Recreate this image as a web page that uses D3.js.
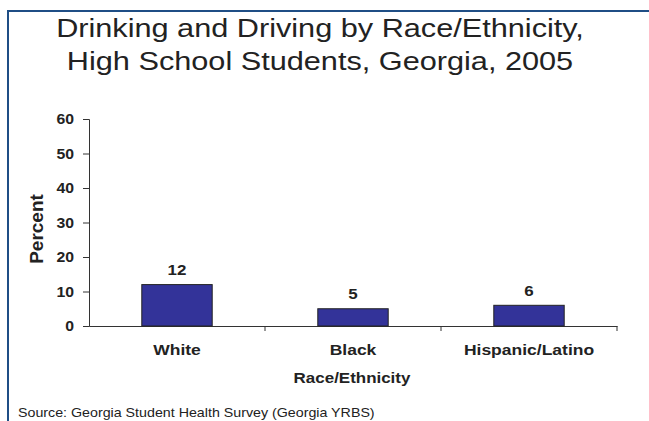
<!DOCTYPE html>
<html><head><meta charset="utf-8">
<script src="https://cdn.jsdelivr.net/npm/d3@7"></script>
<style>body{margin:0;background:#fff;}svg{display:block;font-family:"Liberation Sans",Arial,sans-serif;}</style>
</head><body>
<svg id="c" width="649" height="421"></svg>
<script>
const categories = ["White", "Black", "Hispanic/Latino"];
const values = [12, 5, 6];
const yTicks = [0, 10, 20, 30, 40, 50, 60];
const titleLines = ["Drinking and Driving by Race/Ethnicity,", "High School Students, Georgia, 2005"];
const yLabel = "Percent";
const xLabel = "Race/Ethnicity";
const source = "Source: Georgia Student Health Survey (Georgia YRBS)";

const SX = 1.13;
const svg = d3.select("#c");
// frame
svg.append("line").attr("x1",7).attr("x2",649).attr("y1",11).attr("y2",11).attr("stroke","#1f4e85").attr("stroke-width",2);
svg.append("line").attr("x1",8).attr("x2",8).attr("y1",10).attr("y2",421).attr("stroke","#1f4e85").attr("stroke-width",2);

function stxt(parent, x, y, txt, size, weight, anchor, sx) {
  return parent.append("text")
    .attr("transform", `translate(${x},${y}) scale(${sx||SX},1)`)
    .attr("text-anchor", anchor || "middle")
    .attr("font-size", size).attr("font-weight", weight || "normal")
    .attr("fill", "#222").text(txt);
}

titleLines.forEach((t,i) => stxt(svg, 320, 37 + i*33, t, 26, "normal", "middle", 1.18));

const x = d3.scaleBand().domain(categories).range([89,617]);
const y = d3.scaleLinear().domain([0,60]).range([326,119]);

const g = svg.append("g");
const xAxis = g.append("g").attr("transform","translate(0,326)")
  .call(d3.axisBottom(x).tickSize(0).tickFormat(""));
xAxis.select(".domain").attr("stroke","#333");
g.selectAll("line.bt").data(categories).enter().append("line")
  .attr("x1",d=>x(d)+x.bandwidth()).attr("x2",d=>x(d)+x.bandwidth())
  .attr("y1",326).attr("y2",331).attr("stroke","#333");

const yAxis = g.append("g").attr("transform","translate(89,0)")
  .call(d3.axisLeft(y).tickValues(yTicks).tickSize(6).tickFormat(""));
yAxis.select(".domain").attr("stroke","#333");
yAxis.selectAll(".tick line").attr("stroke","#333");
yTicks.forEach(v => stxt(g, 74, y(v) + 5, v, 14, "bold", "end"));

const bw = x.bandwidth()*0.4;
g.selectAll("rect.bar").data(values).enter().append("rect")
  .attr("x",(d,i)=>x(categories[i])+(x.bandwidth()-bw)/2)
  .attr("width",bw).attr("y",d=>y(d)).attr("height",d=>y(0)-y(d))
  .attr("fill","#333399").attr("stroke","#222").attr("stroke-width",1);

values.forEach((v,i) => stxt(g, x(categories[i]) + x.bandwidth()/2, y(v) - 9.5, v, 15, "bold"));
categories.forEach(c => stxt(g, x(c) + x.bandwidth()/2, 355, c, 15.5, "bold"));

stxt(svg, 352, 383, xLabel, 15, "bold");

svg.append("text").attr("transform","translate(43,229) rotate(-90)").attr("text-anchor","middle")
  .attr("font-size",19).attr("font-weight","bold").attr("fill","#222").text(yLabel);

stxt(svg, 18, 417, source, 12.5, "normal", "start", 1.14);
</script>
</body></html>
